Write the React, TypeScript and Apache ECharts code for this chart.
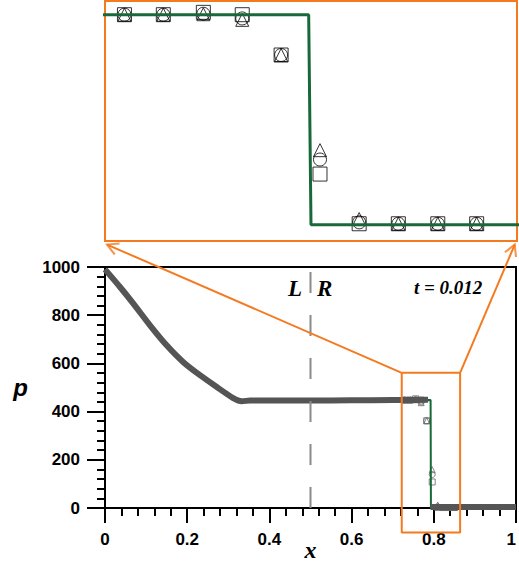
import React, { useEffect, useRef } from 'react';
import * as echarts from 'echarts';

// Numerical solution band (x, p)
const bandLeftX = [0, 0.0365, 0.069, 0.1095, 0.15, 0.19, 0.231, 0.272, 0.312, 0.333, 0.353, 0.4, 0.5, 0.6, 0.7, 0.786];
const bandLeftP = [990, 917, 848, 758, 675, 606, 551, 502, 456, 443, 446, 446, 446, 447, 448, 449];
const bandRightX = [0.792, 1.0];
const bandRightP = [4, 4];

// Exact solution
const exactX = [0, 0.0365, 0.069, 0.1095, 0.15, 0.19, 0.231, 0.272, 0.312, 0.333, 0.7922, 0.793, 1.0];
const exactP = [990, 917, 848, 758, 675, 606, 551, 502, 456, 446, 448, 0, 0];

// Markers around the shock (three schemes)
const markerX = [0.7287, 0.7421, 0.7559, 0.7693, 0.7827, 0.7961, 0.8096, 0.8231, 0.8367, 0.8501];
const squareP = [448, 448, 453, 448, 362, 108, 2, 2, 2, 2];
const circleP = [448, 448, 450, 440, 362, 139, 5, 2, 2, 2];
const triangleP = [448, 448, 449, 437, 362, 159, 12, 2, 2, 2];

// Interface position
const interfaceX = [0.5, 0.5];
const interfaceP = [0, 1000];

// Zoom window (main axes) and inset ranges
const zoomBoxX = [0.722, 0.864, 0.864, 0.722, 0.722];
const zoomBoxP = [561, 561, -102, -102, 561];
const connectorFrom = [[0.722, 561], [0.864, 561]];
const connectorTo = [[0.005, 1093], [0.997, 1093]];
const insetXRange = [0.722, 0.864];
const insetPRange = [-34.8, 477.2];

const xTickInterval = 0.2;
const yTickInterval = 200;

const ORANGE = '#f47a20';
const GREEN = '#17693a';
const BAND = '#555555';

// plot boxes
const MAIN = { left: 105, top: 267, width: 411, height: 241 };
const INSET = { left: 105, top: 1, width: 412, height: 240 };

const zip = (xs: number[], ys: number[]) => xs.map((x, i) => [x, ys[i]]);

export default function App() {
  const ref = useRef<HTMLDivElement>(null);
  useEffect(() => {
    const chart = echarts.init(ref.current!, null, { renderer: 'svg' });
    const tickFont = { fontFamily: 'Liberation Sans', fontWeight: 'bold' as const, fontSize: 17, color: '#000' };
    const blackLine = { color: '#000', width: 2 };
    const hollow = (c: string, w: number) => ({ color: 'transparent', borderColor: c, borderWidth: w });

    // arrowhead orientation from the connector direction in screen space
    const pxPerX = MAIN.width / 1;
    const pxPerP = MAIN.height / 1000;
    const AH = 11; // arrowhead length (px)
    const AW = 12; // arrowhead width (px)
    const arrowData = connectorFrom.map((f, i) => {
      const t = connectorTo[i];
      const sx = (t[0] - f[0]) * pxPerX;
      const sy = -(t[1] - f[1]) * pxPerP; // screen y grows downward
      const len = Math.hypot(sx, sy) || 1;
      const ux = sx / len;
      const uy = sy / len;
      const rot = (Math.atan2(-uy, ux) * 180) / Math.PI - 90;
      return { value: t, symbolRotate: rot, symbolOffset: [-(AH / 2) * ux, -(AH / 2) * uy] };
    });

    chart.setOption({
      animation: false,
      backgroundColor: '#fff',
      grid: [
        { ...MAIN, show: true, borderColor: '#000', borderWidth: 2, backgroundColor: 'transparent', outerBoundsMode: 'none', containLabel: false },
        { ...INSET, show: true, borderColor: ORANGE, borderWidth: 2, backgroundColor: 'transparent', outerBoundsMode: 'none', containLabel: false },
      ],
      xAxis: [
        {
          type: 'value', gridIndex: 0, min: 0, max: 1, interval: xTickInterval,
          name: 'x', nameLocation: 'middle', nameGap: 30, nameMoveOverlap: false,
          nameTextStyle: { fontFamily: 'Liberation Serif', fontStyle: 'italic', fontWeight: 'bold', fontSize: 24, color: '#000' },
          axisLine: { show: true, onZero: false, lineStyle: blackLine },
          axisTick: { show: true, inside: false, length: 15, lineStyle: blackLine },
          minorTick: { show: true, splitNumber: 5, length: 8, lineStyle: blackLine },
          axisLabel: { margin: 23, showMaxLabel: true, showMinLabel: true, alignMaxLabel: 'right', formatter: (v: number) => String(Math.round(v * 10) / 10), ...tickFont },
          splitLine: { show: false }, minorSplitLine: { show: false },
        },
        { type: 'value', gridIndex: 1, min: insetXRange[0], max: insetXRange[1], show: false, splitLine: { show: false } },
      ],
      yAxis: [
        {
          type: 'value', gridIndex: 0, min: 0, max: 1000, interval: yTickInterval,
          name: 'p', nameLocation: 'middle', nameGap: 77, nameRotate: 0, nameMoveOverlap: false,
          nameTextStyle: { fontFamily: 'Liberation Sans', fontStyle: 'italic', fontWeight: 'bold', fontSize: 24, color: '#000' },
          axisLine: { show: true, onZero: false, lineStyle: blackLine },
          axisTick: { show: true, inside: false, length: 18, lineStyle: blackLine },
          minorTick: { show: true, splitNumber: 5, length: 8, lineStyle: blackLine },
          axisLabel: { margin: 25, formatter: (v: number) => String(v), ...tickFont },
          splitLine: { show: false }, minorSplitLine: { show: false },
        },
        { type: 'value', gridIndex: 1, min: insetPRange[0], max: insetPRange[1], show: false, splitLine: { show: false } },
      ],
      series: [
        { type: 'line', xAxisIndex: 0, yAxisIndex: 0, data: zip(exactX, exactP), symbol: 'none', lineStyle: { color: GREEN, width: 2 } },
        { type: 'line', xAxisIndex: 0, yAxisIndex: 0, data: zip(bandLeftX, bandLeftP), symbol: 'none', smooth: 0.2, lineStyle: { color: BAND, width: 6 } },
        { type: 'line', xAxisIndex: 0, yAxisIndex: 0, data: zip(bandRightX, bandRightP), symbol: 'none', lineStyle: { color: BAND, width: 6 } },
        { type: 'line', xAxisIndex: 0, yAxisIndex: 0, data: zip(interfaceX, interfaceP), symbol: 'none', lineStyle: { color: '#8a8a8a', width: 2, type: [21, 22] } },
        { type: 'scatter', xAxisIndex: 0, yAxisIndex: 0, data: zip(markerX, squareP), symbol: 'rect', symbolSize: 6, itemStyle: hollow('#666', 1) },
        { type: 'scatter', xAxisIndex: 0, yAxisIndex: 0, data: zip(markerX, circleP), symbol: 'circle', symbolSize: 6, itemStyle: hollow('#666', 1) },
        { type: 'scatter', xAxisIndex: 0, yAxisIndex: 0, data: zip(markerX, triangleP), symbol: 'triangle', symbolSize: 6, itemStyle: hollow('#666', 1) },
        { type: 'line', xAxisIndex: 0, yAxisIndex: 0, data: zip(zoomBoxX, zoomBoxP), symbol: 'none', clip: false, lineStyle: { color: ORANGE, width: 2 }, z: 5 },
        {
          type: 'lines', coordinateSystem: 'cartesian2d', xAxisIndex: 0, yAxisIndex: 0, clip: false,
          symbol: 'none',
          data: connectorFrom.map((f, i) => ({ coords: [f, connectorTo[i]] })),
          lineStyle: { color: ORANGE, width: 2, opacity: 1 }, z: 5,
        },
        {
          type: 'scatter', xAxisIndex: 0, yAxisIndex: 0, clip: false, z: 6,
          symbol: 'path://M0,10 L6,0 L12,10', symbolSize: [AW, AH], symbolKeepAspect: false,
          data: arrowData,
          itemStyle: { color: 'transparent', borderColor: ORANGE, borderWidth: 2 },
        },
        { type: 'line', xAxisIndex: 1, yAxisIndex: 1, data: zip(exactX, exactP), symbol: 'none', lineStyle: { color: GREEN, width: 3 } },
        { type: 'scatter', xAxisIndex: 1, yAxisIndex: 1, data: zip(markerX, squareP), symbol: 'rect', symbolSize: 14, itemStyle: hollow('#000', 1) },
        { type: 'scatter', xAxisIndex: 1, yAxisIndex: 1, data: zip(markerX, circleP), symbol: 'circle', symbolSize: 13, itemStyle: hollow('#000', 1) },
        { type: 'scatter', xAxisIndex: 1, yAxisIndex: 1, data: zip(markerX, triangleP), symbol: 'triangle', symbolSize: 13, itemStyle: hollow('#000', 1) },
      ],
      graphic: [
        { type: 'text', left: 288, top: 277, style: { text: 'L', fontFamily: 'Liberation Serif', fontStyle: 'italic', fontWeight: 'bold', fontSize: 23, fill: '#000' } },
        { type: 'text', left: 317, top: 277, style: { text: 'R', fontFamily: 'Liberation Serif', fontStyle: 'italic', fontWeight: 'bold', fontSize: 23, fill: '#000' } },
        { type: 'text', left: 414, top: 278, style: { text: 't = 0.012', fontFamily: 'Liberation Serif', fontStyle: 'italic', fontWeight: 'bold', fontSize: 19, fill: '#000' } },
      ],
    });
    return () => chart.dispose();
  }, []);
  return <div ref={ref} style={{ position: 'fixed', left: 0, top: 0, width: 519, height: 566 }} />;
}
